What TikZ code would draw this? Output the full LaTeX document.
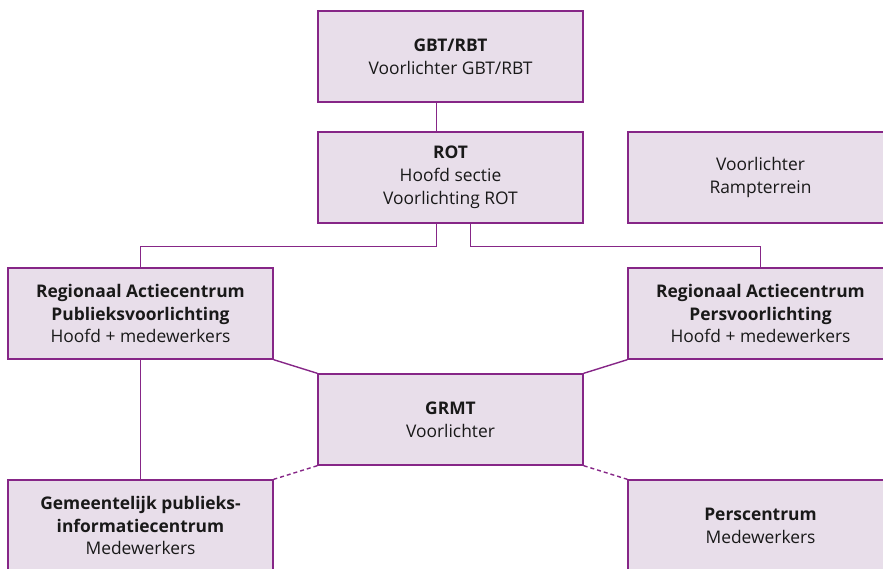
\documentclass[tikz,border=0pt]{standalone}
\usepackage{fontspec}
\setmainfont{Open Sans}
\definecolor{rampline}{HTML}{862687}
\definecolor{rampfill}{HTML}{E8DEEA}
\tikzset{
  unit/.style={draw=rampline, fill=rampfill, line width=1.4pt, minimum width=265pt,
    minimum height=91pt, align=center, inner sep=0pt, text=black!90,
    font=\fontsize{17.4}{22.8}\selectfont},
  link/.style={draw=rampline, line width=1.4pt},
  maybe/.style={link, dash pattern=on 4pt off 3pt}
}
\begin{document}
\begin{tikzpicture}[x=1pt,y=-1pt]
                \useasboundingbox (0,0) rectangle (883,568);
                \clip (0,0) rectangle (883,568);
                \node[unit] (gbt) at (450.5,56.5) {\textbf{GBT/RBT}\\Voorlichter GBT/RBT};
                \node[unit] (rot) at (450.5,177.5) {\textbf{ROT}\\Hoofd sectie\\Voorlichting ROT};
                \node[unit] (ramp) at (760.5,177.5) {Voorlichter\\Rampterrein};
                \node[unit] (racpub) at (140.5,313.5) {\textbf{Regionaal Actiecentrum}\\\textbf{Publieksvoorlichting}\\Hoofd + medewerkers};
                \node[unit] (racpers) at (760.5,313.5) {\textbf{Regionaal Actiecentrum}\\\textbf{Persvoorlichting}\\Hoofd + medewerkers};
                \node[unit] (grmt) at (450.5,419.5) {\textbf{GRMT}\\Voorlichter};
                \node[unit] (gpic) at (140.5,525.5) {\textbf{Gemeentelijk publieks-}\\\textbf{informatiecentrum}\\Medewerkers};
                \node[unit] (pers) at (760.5,525.5) {\textbf{Perscentrum}\\Medewerkers};
                \draw[link] ([xshift=-14pt]gbt.south) -- ([xshift=-14pt]rot.north);
                \draw[link] ([xshift=-14pt]rot.south) -- ++(0,23) -| (racpub.north);
                \draw[link] ([xshift=20pt]rot.south) -- ++(0,23) -| (racpers.north);
                \draw[link] (racpub.south east) -- (grmt.north west);
                \draw[link] (racpers.south west) -- (grmt.north east);
                \draw[link] (racpub.south) -- (gpic.north);
                \draw[maybe] (grmt.south west) -- (gpic.north east);
                \draw[maybe] (grmt.south east) -- (pers.north west);
            \end{tikzpicture}
\end{document}
